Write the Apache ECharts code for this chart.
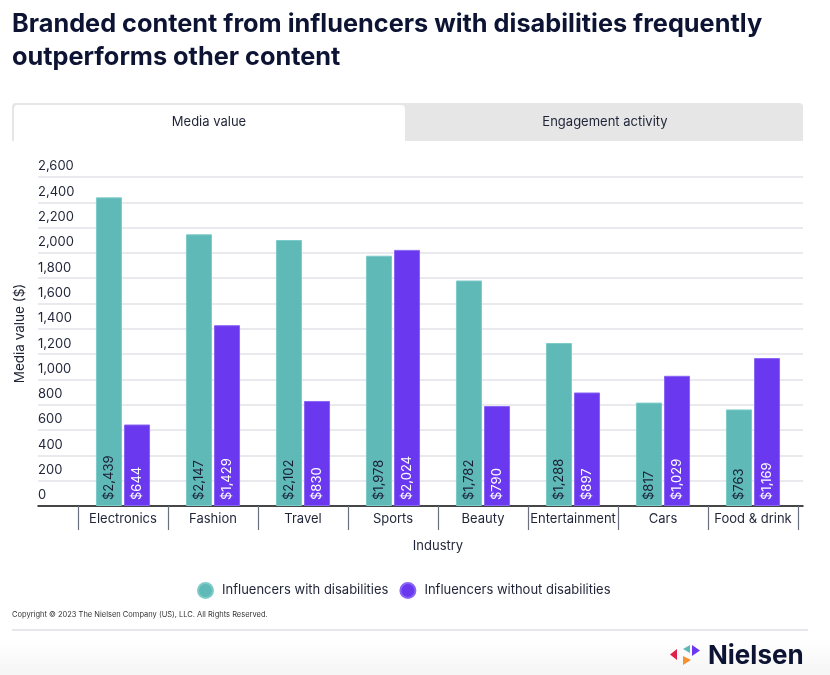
<!DOCTYPE html>
<html>
<head>
<meta charset="utf-8">
<script src="https://cdn.jsdelivr.net/npm/echarts@6/dist/echarts.min.js"></script>
<style>
  html, body { margin: 0; padding: 0; background: #fff; }
  #chart { width: 830px; height: 675px; }
</style>
</head>
<body>
<div id="chart"></div>
<script>
var industries = ['Electronics', 'Fashion', 'Travel', 'Sports', 'Beauty', 'Entertainment', 'Cars', 'Food & drink'];
var withDisabilities = [2439, 2147, 2102, 1978, 1782, 1288, 817, 763];
var withoutDisabilities = [644, 1429, 830, 2024, 790, 897, 1029, 1169];
var seriesNames = ['Influencers with disabilities', 'Influencers without disabilities'];
var tabLabels = ['Media value', 'Engagement activity'];

function money(v) {
    return '$' + v.toLocaleString('en-US');
}

function initMediaChart() {
    var _chart = echarts.init(document.getElementById('chart'));
    var font = 'Inter, "Noto Sans", sans-serif';
    var navy = '#0d1433';
    var option = {
        backgroundColor: '#fff',
        textStyle: { fontFamily: font },
        animation: false,
        title: {
            text: 'Branded content from influencers with disabilities frequently\noutperforms other content',
            left: 7,
            top: 3,
            textStyle: {
                fontFamily: font,
                fontSize: 25.3,
                fontWeight: 'bold',
                color: navy,
                lineHeight: 33
            }
        },
        legend: {
            data: seriesNames,
            left: 192,
            top: 577,
            icon: 'circle',
            itemWidth: 15,
            itemHeight: 15,
            itemGap: 11,
            textStyle: { fontSize: 13, color: '#1f2437', fontFamily: font, padding: [0, 0, 0, 4] }
        },
        grid: [
            { left: 38, right: 27, top: 177, bottom: 169 },
            { left: 78, right: 32, top: 177, bottom: 169 }
        ],
        xAxis: [{
            gridIndex: 0,
            type: 'value',
            min: 0,
            max: 1,
            axisLine: { show: true, onZero: false, lineStyle: { color: '#111', width: 1.5 } },
            axisTick: { show: false },
            axisLabel: { show: false },
            splitLine: { show: false }
        }, {
            gridIndex: 1,
            type: 'category',
            data: industries,
            name: 'Industry',
            nameLocation: 'middle',
            nameGap: 34,
            nameTextStyle: { fontSize: 13, color: '#1f2437' },
            axisLine: { show: false },
            axisTick: { show: true, length: 24, lineStyle: { color: '#6b7080', width: 1.2 } },
            axisLabel: { fontSize: 13, color: '#1f2437', margin: 7, interval: 0 }
        }],
        yAxis: [{
            gridIndex: 0,
            type: 'value',
            min: 0,
            max: 2600,
            interval: 200,
            name: 'Media value ($)',
            nameLocation: 'middle',
            nameRotate: 90,
            nameGap: 4,
            nameTextStyle: { fontSize: 13.5, color: '#1f2437', padding: [0, 0, 0, 16] },
            axisLine: { show: false },
            axisTick: { show: false },
            axisLabel: {
                inside: true,
                margin: 0,
                align: 'left',
                verticalAlign: 'bottom',
                padding: [0, 0, 4, 0],
                fontSize: 13,
                color: '#1f2437',
                formatter: function (v) { return v.toLocaleString('en-US'); }
            },
            splitLine: { lineStyle: { color: '#e2e2e8', width: 1.5 } }
        }, {
            gridIndex: 1,
            type: 'value',
            min: 0,
            max: 2600,
            interval: 200,
            show: false,
            splitLine: { show: false }
        }],
        series: [{
            name: seriesNames[0],
            type: 'bar',
            xAxisIndex: 1,
            yAxisIndex: 1,
            data: withDisabilities,
            barWidth: 26,
            barGap: '8%',
            itemStyle: { color: '#5fb9b7', borderColor: '#7ccbc8', borderWidth: 1 },
            label: {
                show: true,
                position: 'insideBottom',
                rotate: 90,
                align: 'left',
                verticalAlign: 'middle',
                distance: 6,
                fontSize: 13,
                color: '#1a1f36',
                formatter: function (p) { return money(p.value); }
            }
        }, {
            name: seriesNames[1],
            type: 'bar',
            xAxisIndex: 1,
            yAxisIndex: 1,
            data: withoutDisabilities,
            barWidth: 26,
            barGap: '8%',
            itemStyle: { color: '#6a39ef', borderColor: '#8a66f5', borderWidth: 1 },
            label: {
                show: true,
                position: 'insideBottom',
                rotate: 90,
                align: 'left',
                verticalAlign: 'middle',
                distance: 6,
                fontSize: 13,
                color: '#fff',
                formatter: function (p) { return money(p.value); }
            }
        }],
        graphic: [
            // tabs
            { type: 'rect', shape: { x: 12, y: 103, width: 791, height: 38, r: [4, 4, 0, 0] }, style: { fill: '#e6e6e6' } },
            { type: 'rect', shape: { x: 14, y: 105, width: 391, height: 36, r: [4, 4, 0, 0] }, style: { fill: '#fff' } },
            { type: 'text', x: 209, y: 122, style: { text: tabLabels[0], font: '13px ' + font, fill: '#1f2437', textAlign: 'center', textVerticalAlign: 'middle' } },
            { type: 'text', x: 605, y: 122, style: { text: tabLabels[1], font: '13px ' + font, fill: '#1f2437', textAlign: 'center', textVerticalAlign: 'middle' } },
            // footer
            { type: 'text', x: 12, y: 615, style: { text: 'Copyright \u00a9 2023 The Nielsen Company (US), LLC. All Rights Reserved.', font: '7.5px ' + font, fill: '#333', textVerticalAlign: 'middle' } },
            { type: 'rect', shape: { x: 0, y: 640, width: 830, height: 35 }, style: { fill: { type: 'linear', x: 0, y: 0, x2: 0, y2: 1, colorStops: [{ offset: 0, color: '#ffffff' }, { offset: 1, color: '#f5f5f5' }] } }, z: -1 },
            { type: 'line', shape: { x1: 12, y1: 630, x2: 808, y2: 630 }, style: { stroke: '#e6e6ec', lineWidth: 2 } },
            // logo
            { type: 'polygon', shape: { points: [[677, 649], [677, 660], [670, 654.5]] }, style: { fill: '#e0224a' } },
            { type: 'polygon', shape: { points: [[690, 645], [690, 653], [683, 649]] }, style: { fill: '#5fb9b7' } },
            { type: 'polygon', shape: { points: [[692, 645], [692, 656], [700, 650.5]] }, style: { fill: '#6a39ef' } },
            { type: 'polygon', shape: { points: [[683, 656], [691, 660], [683, 665]] }, style: { fill: '#f5922f' } },
            { type: 'text', x: 708, y: 656, style: { text: 'Nielsen', font: 'bold 26px ' + font, fill: navy, textVerticalAlign: 'middle' } }
        ]
    };
    _chart.setOption(option);
    window.addEventListener('resize', function () {
        _chart.resize();
    });
}

initMediaChart();
</script>
</body>
</html>
